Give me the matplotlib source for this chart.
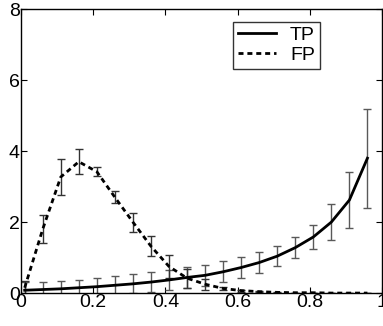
import numpy as np
import matplotlib.pyplot as plt

plt.rcParams['font.family'] = ['Liberation Sans', 'DejaVu Sans']

# data
x = [0.01, 0.06, 0.11, 0.16, 0.21, 0.26, 0.31, 0.36, 0.41, 0.46,
     0.51, 0.56, 0.61, 0.66, 0.71, 0.76, 0.81, 0.86, 0.91, 0.96]
tp = [0.08, 0.10, 0.12, 0.15, 0.18, 0.22, 0.26, 0.31, 0.37, 0.44,
      0.50, 0.60, 0.72, 0.86, 1.04, 1.28, 1.58, 2.00, 2.62, 3.80]
tp_err = [0.22, 0.22, 0.22, 0.22, 0.24, 0.25, 0.27, 0.28, 0.29, 0.30,
          0.30, 0.30, 0.30, 0.30, 0.28, 0.30, 0.35, 0.50, 0.80, 1.40]
fp = [0.15, 1.80, 3.27, 3.70, 3.42, 2.70, 2.00, 1.32, 0.75, 0.42,
      0.25, 0.13, 0.07, 0.04, 0.02, 0.01, 0.01, 0.0, 0.0, 0.0]
fp_err = [0.20, 0.40, 0.50, 0.35, 0.13, 0.17, 0.27, 0.28, 0.32, 0.27,
          0.15, 0.05, 0.03, 0.02, 0.01, 0.0, 0.0, 0.0, 0.0, 0.0]

fig = plt.figure(figsize=(3.83, 3.26), dpi=100)
ax = fig.add_axes([0.055, 0.101, 0.942, 0.871])

ax.errorbar(x, tp, yerr=tp_err, fmt='none', ecolor='0.35', elinewidth=1, capsize=3, capthick=1)
ax.errorbar(x, fp, yerr=fp_err, fmt='none', ecolor='0.2', elinewidth=1, capsize=3, capthick=1)
ax.plot(x, tp, color='black', linewidth=2, label='TP')
ax.plot(x, fp, color='black', linewidth=2, linestyle=(0, (1.8, 1.4)), label='FP')

ax.set_xlim(0, 1)
ax.set_ylim(0, 8)
ax.set_xticks([0, 0.2, 0.4, 0.6, 0.8, 1])
ax.set_xticklabels(['0', '0.2', '0.4', '0.6', '0.8', '1'])
ax.set_yticks([0, 2, 4, 6, 8])
ax.tick_params(direction='in', top=True, right=True, labelsize=14, length=4, pad=1)
for s in ax.spines.values():
    s.set_linewidth(1)

leg = ax.legend(loc='upper right', bbox_to_anchor=(0.855, 0.99), fontsize=14,
                frameon=True, fancybox=False, edgecolor='black', handlelength=2.0,
                borderpad=0.25, labelspacing=0.1, handletextpad=0.7)
leg.get_frame().set_linewidth(1)

plt.savefig('out.png', dpi=100)
